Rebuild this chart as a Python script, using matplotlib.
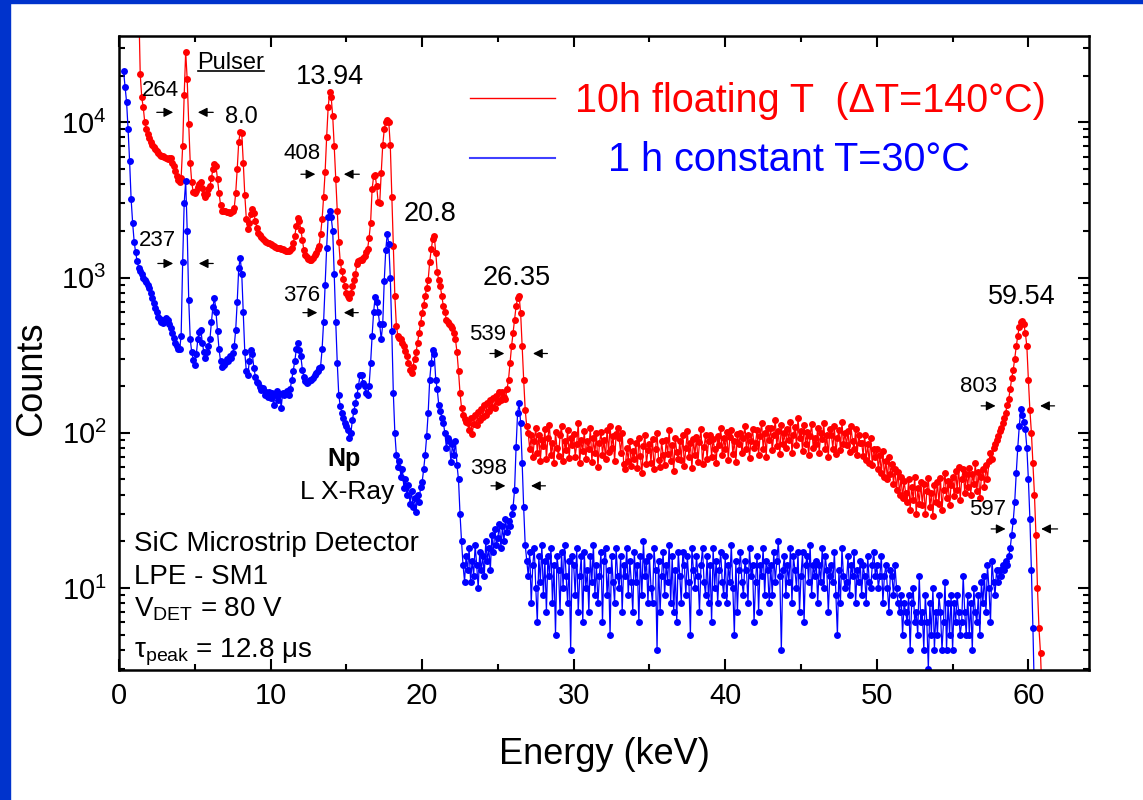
#SiC microstrip spectra, floating T vs constant T
import numpy as np
import matplotlib
matplotlib.use('Agg')
import matplotlib.pyplot as plt
from matplotlib.patches import Rectangle
from matplotlib.lines import Line2D
from matplotlib.ticker import MultipleLocator, LogLocator

plt.rcParams['font.family'] = ['Liberation Sans', 'DejaVu Sans']
plt.rcParams['mathtext.fontset'] = 'custom'
plt.rcParams['mathtext.rm'] = 'Liberation Sans'
plt.rcParams['mathtext.it'] = 'Liberation Sans:italic'
plt.rcParams['mathtext.bf'] = 'Liberation Sans:bold'

#channel energies, 0.1 keV bins starting at 0 keV (row = 1 keV)
energy = np.round(np.arange(0, 610) * 0.1, 2)

#1 h constant T=30C, counts per bin (None = no data)
blue_counts = [
    None, None, None, 21400, 17000, 13500, 9000, 5600, 3200, 2250,
    1700, 1450, 1270, 1160, 1100, 1050, 1000, 970, 930, 890,
    850, 790, 740, 690, 640, 600, 560, 540, 520, 510,
    530, 545, 530, 500, 470, 440, 410, 380, 360, 345,
    345, 420, 1250, 3000, 4200, 2000, 720, 400, 330, 296,
    275, 320, 400, 445, 460, 380, 330, 305, 330, 360,
    400, 520, 650, 740, 600, 450, 345, 290, 267, 275,
    283, 300, 290, 310, 305, 325, 360, 460, 700, 1150,
    1340, 1050, 600, 330, 250, 235, 290, 340, 320, 260,
    230, 212, 208, 196, 188, 194, 176, 184, 170, 182,
    168, 180, 150, 176, 185, 162, 178, 145, 181, 174,
    180, 186, 176, 192, 220, 250, 290, 345, 380, 340,
    310, 255, 230, 215, 210, 212, 218, 220, 225, 235,
    243, 250, 260, 267, 345, 520, 900, 1550, 2450, 2670,
    2450, 2000, 1050, 520, 283, 175, 148, 135, 125, 116,
    110, 104, 92, 100, 121, 138, 156, 175, 200, 235,
    235, 210, 200, 180, 175, 200, 280, 420, 600, 750,
    700, 600, 500, 400, 500, 950, 1500, 1920, 1650, 1000,
    450, 180, 100, 72, 60, 66, 52, 58, 44, 50,
    40, 46, 35, 42, 33, 38, 31, 40, 36, 45,
    48, 58, 72, 95, 135, 220, 283, 343, 320, 220,
    190, 150, 138, 125, 116, 100, 80, 92, 88, 65,
    84, 72, 88, 62, 50, 30, 20, 14, 11, 16,
    13, 18, 11, 15, 12, 19, 14, 10, 17, 13,
    16, 12, 20, 15, 18, 13, 22, 17, 24, 19,
    21, 26, 18, 25, 20, 28, 23, 27, 25, 30,
    33, 43, 81, 135, 155, 116, 64, 33, 19, 15,
    12, 17, 8, 14, 18, 10, 6, 16, 11, 19,
    9, 15, 7, 16, 12, 18, 8, 14, 5, 16,
    13, 7, 17, 10, 19, 12, 8, 15, 4, 16,
    14, 9, 18, 7, 12, 16, 6, 17, 10, 13,
    7, 16, 11, 19, 9, 14, 8, 12, 17, 6,
    15, 18, 9, 13, 5, 16, 11, 8, 18, 12,
    10, 16, 7, 14, 12, 18, 9, 15, 11, 7,
    17, 11, 14, 6, 16, 9, 20, 12, 15, 8,
    16, 10, 8, 18, 13, 4, 15, 7, 12, 17,
    9, 14, 11, 19, 8, 16, 7, 13, 6, 17,
    12, 8, 17, 14, 9, 16, 11, 5, 18, 13,
    10, 16, 12, 7, 14, 18, 11, 9, 16, 8,
    14, 6, 18, 10, 15, 8, 13, 17, 11, 9,
    16, 8, 14, 11, 19, 10, 5, 15, 7, 13,
    17, 11, 9, 15, 13, 8, 18, 12, 14, 6,
    11, 16, 7, 14, 12, 18, 9, 15, 13, 8,
    14, 9, 17, 11, 15, 20, 12, 4, 13, 16,
    9, 14, 11, 18, 8, 16, 13, 10, 17, 7,
    12, 17, 6, 14, 16, 11, 19, 9, 14, 12,
    15, 8, 14, 11, 18, 10, 16, 13, 7, 12,
    14, 11, 17, 9, 5, 13, 8, 18, 12, 10,
    11, 16, 9, 14, 12, 17, 8, 13, 11, 15,
    9, 14, 12, 8, 16, 11, 10, 14, 17, 12,
    14, 10, 12, 16, 8, 12, 14, 10, 7, 13,
    12, 9, 14, 10, 8, 7, 9, 5, 8, 7,
    6, 9, 4, 8, 10, 6, 7, 5, 12, 6,
    7, 4, 9, 6, 3, 8, 5, 10, 4, 7,
    5, 9, 7, 4, 6, 11, 4, 8, 5, 9,
    4, 8, 6, 9, 7, 5, 6, 12, 7, 5,
    9, 5, 8, 4, 10, 7, 6, 9, 5, 11,
    8, 12, 7, 14, 10, 6, 15, 11, 9, 13,
    11, 13, 12, 14, 13, 15, 14, 16, 18, 22,
    27, 36, 55, 80, 110, 142, 130, 118, 105, 80,
    50, 28, 13, 5.5, 2, 1, 1, 1, 1, 1,
]

#10 h floating T (dT=140C)
red_counts = [
    None, None, None, None, None, None, None, None, None, None,
    None, None, None, 60000, 20500, 14500, 12500, 10000, 9000, 8400,
    7900, 7500, 7100, 6900, 6700, 6500, 6350, 6200, 6100, 6050,
    6000, 5900, 5800, 5850, 5880, 5500, 5200, 4850, 4500, 4250,
    4150, 4400, 7000, 14900, 28500, 18900, 9800, 5500, 4100, 3540,
    3500, 3600, 3850, 4000, 4150, 3800, 3450, 3300, 3450, 3700,
    3880, 4400, 5000, 5400, 5200, 4300, 3500, 2950, 2700, 2680,
    2680, 2650, 2640, 2620, 2650, 2700, 2800, 3500, 5000, 7500,
    8700, 8500, 5500, 3400, 2400, 2050, 2250, 2550, 2750, 2600,
    2300, 2100, 1950, 1880, 1820, 1770, 1720, 1700, 1680, 1660,
    1640, 1610, 1600, 1570, 1560, 1545, 1550, 1520, 1525, 1500,
    1490, 1480, 1475, 1510, 1560, 1680, 1860, 2150, 2430, 2300,
    2030, 1750, 1500, 1400, 1350, 1320, 1300, 1300, 1340, 1400,
    1440, 1520, 1600, 1900, 2370, 3300, 4800, 8000, 12500, 15600,
    14500, 11000, 7000, 4300, 2700, 1700, 1250, 1100, 980, 880,
    800, 760, 740, 800, 880, 970, 1060, 1220, 1270, 1290,
    1300, 1330, 1370, 1450, 1520, 1800, 2250, 3700, 4500, 4550,
    3880, 3050, 3000, 4700, 7100, 9000, 10100, 10400, 10000, 7100,
    3320, 1600, 760, 490, 420, 410, 400, 380, 360, 335,
    310, 280, 255, 243, 267, 300, 330, 380, 440, 510,
    590, 670, 760, 860, 970, 1260, 1520, 1760, 1850, 1440,
    1080, 960, 880, 760, 655, 600, 536, 520, 505, 490,
    470, 440, 400, 330, 250, 180, 145, 130, 122, 118,
    116, 104, 125, 98, 114, 130, 112, 136, 120, 142,
    126, 150, 130, 156, 138, 162, 146, 168, 144, 172,
    158, 182, 162, 184, 170, 166, 190, 220, 283, 360,
    440, 536, 655, 740, 760, 590, 360, 220, 141, 110,
    100, 78, 96, 70, 88, 108, 74, 97, 66, 90,
    82, 105, 68, 93, 112, 72, 86, 64, 101, 80,
    71, 96, 110, 66, 89, 77, 104, 69, 92, 83,
    98, 70, 85, 115, 64, 90, 76, 103, 68, 88,
    79, 107, 65, 92, 74, 99, 60, 86, 101, 72,
    90, 68, 104, 75, 111, 80, 95, 66, 98, 108,
    92, 74, 100, 63, 58, 80, 66, 88, 61, 76,
    68, 86, 59, 92, 71, 55, 82, 96, 63, 77,
    84, 64, 91, 58, 78, 99, 67, 60, 88, 72,
    62, 90, 73, 104, 66, 83, 57, 93, 75, 68,
    88, 67, 97, 61, 80, 102, 70, 86, 59, 91,
    72, 94, 65, 87, 105, 63, 81, 96, 68, 89,
    97, 70, 91, 78, 64, 95, 83, 108, 72, 93,
    79, 101, 67, 94, 104, 73, 89, 65, 98, 84,
    100, 74, 93, 110, 78, 97, 69, 88, 106, 80,
    86, 104, 72, 95, 116, 79, 99, 70, 108, 90,
    107, 77, 96, 121, 82, 103, 73, 112, 85, 99,
    80, 106, 90, 118, 74, 97, 109, 83, 124, 92,
    103, 76, 112, 84, 101, 72, 95, 114, 80, 93,
    84, 108, 74, 99, 91, 115, 78, 96, 70, 105,
    97, 79, 110, 73, 92, 104, 77, 117, 84, 100,
    83, 103, 75, 110, 88, 78, 106, 72, 96, 86,
    86, 71, 97, 67, 84, 64, 92, 62, 79, 70,
    78, 58, 72, 55, 76, 52, 66, 50, 70, 54,
    63, 47, 58, 43, 56, 40, 52, 38, 49, 41,
    36, 50, 32, 45, 37, 52, 30, 44, 35, 48,
    34, 47, 30, 42, 51, 33, 41, 29, 46, 36,
    48, 35, 51, 32, 43, 55, 38, 49, 34, 46,
    52, 39, 57, 43, 60, 37, 50, 58, 41, 54,
    45, 59, 40, 54, 47, 64, 42, 56, 38, 52,
    58, 45, 62, 50, 66, 74, 68, 80, 85, 90,
    95, 102, 108, 116, 125, 135, 150, 165, 190, 225,
    254, 300, 360, 420, 480, 515, 522, 500, 440, 360,
    220, 140, 100, 64, 40, 22, 10, 5.5, 3.8, 2,
]

labels = ['10h floating T  (\u0394T=140\u00b0C)', '   1 h constant T=30\u00b0C']

#peak energies (keV) and label positions
peak_labels = ['13.94', '20.8', '26.35', '59.54']
peak_pos = [(13.93, 19700), (20.53, 2550), (26.24, 986), (59.54, 748)]

#FWHM (eV): label, label pos, arrow level, right-pointing arrow, left-pointing arrow
fwhm_labels = ['264', '237', '408', '376', '539', '398', '803', '597']
fwhm_text = [(2.71, 16070), (2.51, 1730), (12.08, 6310), (12.08, 766),
             (24.29, 428), (24.36, 58.6), (56.70, 198), (57.29, 31.8)]
fwhm_y = [11600, 1232, 4630, 594, 324, 45.5, 149, 24.0]
fwhm_in = [(2.31, 3.76), (2.38, 3.76), (11.82, 13.14), (11.95, 13.27),
           (24.29, 25.61), (24.36, 25.68), (56.70, 58.02), (57.36, 58.68)]
fwhm_out = [(6.40, 5.02), (6.40, 5.08), (16.04, 14.65), (15.97, 14.65),
            (28.45, 27.13), (28.32, 27.00), (61.91, 60.59), (62.11, 60.66)]

red = np.array(red_counts, dtype=float)
blue = np.array(blue_counts, dtype=float)

fig = plt.figure(figsize=(11.43, 8), dpi=100)
#blue frame of the slide
fig.patches.append(Rectangle((0, 0), 10 / 1143, 1, transform=fig.transFigure,
                             color='#0033cc', zorder=0))
fig.patches.append(Rectangle((0, 1 - 3 / 800), 1, 3 / 800, transform=fig.transFigure,
                             color='#0033cc', zorder=0))
ax = fig.add_axes([119 / 1143, 130 / 800, 970 / 1143, 634 / 800])

ax.plot(energy, red, '-o', color='#ff0000', lw=0.9, ms=5, mew=0, label=labels[0])
ax.plot(energy, blue, '-o', color='#0000ff', lw=0.9, ms=5, mew=0, label=labels[1])

ax.set_yscale('log')
ax.set_xlim(0, 64)
ax.set_ylim(2.96, 36000)
ax.xaxis.set_major_locator(MultipleLocator(10))
ax.xaxis.set_minor_locator(MultipleLocator(5))
ax.yaxis.set_major_locator(LogLocator(base=10))
ax.yaxis.set_minor_locator(LogLocator(base=10, subs=np.arange(2, 10)))
ax.tick_params(which='both', direction='in', top=True, right=True, width=1.5,
               labelsize=21)
ax.tick_params(which='major', length=8, pad=9)
ax.tick_params(which='minor', length=4.5)
for s in ax.spines.values():
    s.set_linewidth(1.8)

ax.set_xlabel('Energy (keV)', fontsize=26)
ax.set_ylabel('Counts', fontsize=26)
ax.xaxis.set_label_coords(0.5, -0.105)
ax.yaxis.set_label_coords(-0.072, 0.46)

#legend: lines only, coloured text
handles = [Line2D([], [], color='#ff0000', lw=1), Line2D([], [], color='#4040ff', lw=1.5)]
leg = ax.legend(handles, labels, loc='upper left', bbox_to_anchor=(0.362, 0.928),
                frameon=False, fontsize=28.5, handlelength=2.15, handletextpad=0.5,
                labelspacing=0.55, borderaxespad=0, borderpad=0)
leg.get_texts()[0].set_color('#ff0000')
leg.get_texts()[1].set_color('#0000ff')

#peak energies
for lab, (x, y) in zip(peak_labels, peak_pos):
    ax.text(x, y, lab, fontsize=19.5, ha='center', va='center')
ax.text(8.09, 10900, '8.0', fontsize=17, ha='center', va='center')
pulser = ax.text(7.39, 24000, 'Pulser', fontsize=17, ha='center', va='center')

#FWHM markers
for lab, txy, y, (a0, a1), (b0, b1) in zip(fwhm_labels, fwhm_text, fwhm_y, fwhm_in, fwhm_out):
    ax.text(txy[0], txy[1], lab, fontsize=16, ha='center', va='center')
    ax.annotate('', xy=(a1, y), xytext=(a0, y),
                arrowprops=dict(arrowstyle='-|>', color='k', lw=0.9, mutation_scale=14))
    ax.annotate('', xy=(b1, y), xytext=(b0, y),
                arrowprops=dict(arrowstyle='-|>', color='k', lw=0.9, mutation_scale=14))

ax.text(14.85, 68, 'Np', fontsize=18, fontweight='bold', ha='center', va='center')
ax.text(15.03, 41.6, 'L X-Ray', fontsize=19, ha='center', va='center')

#detector info
ax.text(0.0155, 0.1877, 'SiC Microstrip Detector', transform=ax.transAxes, fontsize=20)
ax.text(0.0155, 0.1356, 'LPE - SM1', transform=ax.transAxes, fontsize=20)
ax.text(0.0155, 0.084, r'V$_\mathregular{DET}$ = 80 V', transform=ax.transAxes, fontsize=20)
ax.text(0.0155, 0.019, '\u03c4$_\\mathregular{peak}$ = 12.8 \u03bcs', transform=ax.transAxes,
        fontsize=20)

#underline Pulser
fig.canvas.draw()
bb = pulser.get_window_extent().transformed(fig.transFigure.inverted())
fig.add_artist(Line2D([bb.x0, bb.x1], [bb.y0 + 3 / 800, bb.y0 + 3 / 800],
                      color='k', lw=1.2, transform=fig.transFigure))

fig.savefig('out.png', dpi=100)
